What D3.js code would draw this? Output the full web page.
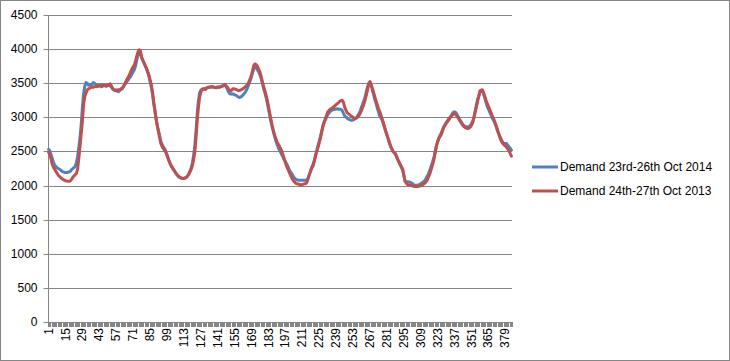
<!DOCTYPE html>
<html>
<head>
<meta charset="utf-8">
<script src="https://cdn.jsdelivr.net/npm/d3@7"></script>
<style>
  html, body { margin: 0; padding: 0; background: #fff; }
  svg { display: block; }
  text { font-family: "Liberation Sans", Arial, sans-serif; fill: #000; }
</style>
</head>
<body>
<svg id="chart" width="730" height="361"></svg>
<script>
// ---------- DATA ----------
const seriesNames = ["Demand 23rd-26th Oct 2014", "Demand 24th-27th Oct 2013"];

const demand2014 = [
  2530, 2510, 2450, 2400, 2340, 2300, 2280, 2260, 2250, 2240, 2225, 2210, 2200, 2195, 2190, 2190,
  2195, 2200, 2210, 2230, 2250, 2260, 2280, 2340, 2420, 2560, 2700, 2900, 3150, 3350, 3460, 3510,
  3500, 3470, 3480, 3470, 3490, 3510, 3500, 3480, 3470, 3455, 3465, 3470, 3450, 3460, 3475, 3465,
  3455, 3465, 3470, 3460, 3440, 3420, 3400, 3390, 3400, 3380, 3375, 3400, 3420, 3430, 3450, 3480,
  3500, 3530, 3550, 3580, 3600, 3640, 3670, 3700, 3760, 3840, 3920, 3950, 3930, 3870, 3830, 3790,
  3750, 3710, 3660, 3600, 3520, 3440, 3340, 3200, 3090, 2970, 2880, 2800, 2720, 2640, 2600, 2570,
  2540, 2500, 2450, 2400, 2350, 2310, 2280, 2250, 2220, 2190, 2165, 2140, 2125, 2115, 2108, 2105,
  2105, 2110, 2120, 2140, 2170, 2210, 2260, 2330, 2440, 2580, 2800, 3050, 3250, 3360, 3400, 3410,
  3420, 3415, 3420, 3435, 3440, 3445, 3440, 3450, 3445, 3440, 3435, 3440, 3445, 3440, 3450, 3455,
  3460, 3465, 3470, 3450, 3410, 3370, 3345, 3340, 3345, 3340, 3330, 3325, 3310, 3300, 3290, 3300,
  3310, 3330, 3350, 3375, 3410, 3450, 3500, 3540, 3600, 3670, 3720, 3730, 3720, 3690, 3660, 3620,
  3560, 3490, 3420, 3360, 3290, 3210, 3120, 3030, 2940, 2860, 2790, 2720, 2660, 2610, 2560, 2520,
  2490, 2450, 2420, 2380, 2350, 2320, 2280, 2240, 2205, 2180, 2150, 2120, 2100, 2090, 2082, 2078,
  2078, 2078, 2078, 2078, 2078, 2078, 2080, 2120, 2170, 2220, 2260, 2290, 2360, 2450, 2520, 2590,
  2650, 2720, 2800, 2880, 2930, 2960, 3000, 3040, 3060, 3085, 3100, 3110, 3115, 3120, 3120, 3125,
  3120, 3120, 3115, 3100, 3060, 3020, 3005, 2990, 2975, 2965, 2958, 2958, 2960, 2970, 2983, 3000,
  3030, 3060, 3100, 3150, 3200, 3250, 3300, 3380, 3450, 3500, 3520, 3470, 3400, 3330, 3260, 3200,
  3140, 3080, 3020, 2990, 2960, 2910, 2850, 2790, 2735, 2680, 2625, 2575, 2535, 2500, 2480, 2460,
  2420, 2380, 2340, 2300, 2265, 2230, 2150, 2070, 2055, 2054, 2054, 2050, 2040, 2030, 2015, 2005,
  2005, 2005, 2010, 2015, 2025, 2040, 2055, 2065, 2090, 2130, 2160, 2200, 2250, 2300, 2360, 2420,
  2510, 2590, 2650, 2700, 2740, 2770, 2820, 2860, 2890, 2920, 2950, 2975, 3000, 3020, 3050, 3075,
  3080, 3070, 3040, 3010, 2975, 2945, 2915, 2890, 2875, 2865, 2860, 2860, 2865, 2880, 2910, 2950,
  2990, 3080, 3180, 3260, 3310, 3360, 3390, 3400, 3340, 3280, 3220, 3160, 3120, 3080, 3040, 3000,
  2960, 2930, 2880, 2830, 2780, 2740, 2700, 2660, 2630, 2616, 2615, 2616, 2590, 2570, 2545, 2520
];

const demand2013 = [
  2490, 2450, 2390, 2310, 2270, 2240, 2210, 2180, 2150, 2135, 2115, 2100, 2090, 2080, 2070, 2065,
  2062, 2063, 2068, 2090, 2120, 2140, 2160, 2175, 2240, 2400, 2580, 2760, 2950, 3200, 3310, 3360,
  3400, 3420, 3425, 3440, 3445, 3440, 3450, 3455, 3450, 3460, 3465, 3455, 3460, 3470, 3465, 3460,
  3470, 3475, 3480, 3490, 3460, 3420, 3405, 3400, 3395, 3400, 3405, 3400, 3410, 3420, 3460, 3490,
  3530, 3560, 3590, 3630, 3670, 3710, 3740, 3770, 3830, 3900, 3960, 3990, 3975, 3880, 3840, 3800,
  3760, 3720, 3670, 3620, 3550, 3480, 3370, 3220, 3110, 2970, 2870, 2780, 2690, 2610, 2570, 2540,
  2515, 2490, 2440, 2390, 2345, 2300, 2270, 2240, 2215, 2190, 2165, 2145, 2130, 2115, 2110, 2105,
  2105, 2110, 2120, 2140, 2165, 2200, 2240, 2290, 2380, 2490, 2700, 2950, 3150, 3300, 3370, 3400,
  3415, 3420, 3410, 3430, 3435, 3440, 3445, 3450, 3445, 3440, 3438, 3435, 3440, 3440, 3445, 3450,
  3460, 3470, 3480, 3460, 3440, 3410, 3395, 3390, 3410, 3420, 3415, 3410, 3400, 3390, 3395, 3400,
  3410, 3420, 3435, 3450, 3470, 3490, 3530, 3570, 3630, 3700, 3770, 3785, 3770, 3740, 3700, 3660,
  3590, 3520, 3450, 3390, 3320, 3250, 3160, 3060, 2970, 2880, 2810, 2740, 2690, 2640, 2610, 2580,
  2540, 2500, 2450, 2390, 2335, 2280, 2240, 2200, 2160, 2120, 2090, 2060, 2045, 2030, 2025, 2020,
  2015, 2012, 2015, 2022, 2025, 2028, 2060, 2120, 2175, 2230, 2275, 2320, 2375, 2440, 2500, 2560,
  2630, 2700, 2780, 2860, 2920, 2980, 3030, 3080, 3100, 3120, 3130, 3140, 3155, 3170, 3185, 3200,
  3215, 3235, 3245, 3250, 3220, 3150, 3110, 3070, 3055, 3040, 3025, 3010, 3000, 2990, 2988, 2990,
  3010, 3030, 3060, 3100, 3150, 3200, 3260, 3330, 3410, 3490, 3520, 3480, 3420, 3360, 3300, 3240,
  3185, 3130, 3085, 3040, 2980, 2920, 2860, 2800, 2745, 2690, 2635, 2580, 2540, 2500, 2485, 2470,
  2425, 2380, 2345, 2310, 2275, 2240, 2150, 2060, 2035, 2015, 2010, 2005, 2000, 1995, 1990, 1985,
  1985, 1985, 1988, 1990, 1998, 2005, 2018, 2030, 2050, 2070, 2110, 2150, 2200, 2260, 2320, 2390,
  2490, 2580, 2640, 2690, 2720, 2750, 2800, 2850, 2880, 2910, 2935, 2960, 2985, 3010, 3030, 3050,
  3050, 3040, 3015, 2990, 2960, 2935, 2905, 2880, 2860, 2845, 2840, 2835, 2845, 2855, 2885, 2920,
  3000, 3080, 3150, 3230, 3310, 3390, 3400, 3400, 3360, 3310, 3250, 3200, 3160, 3120, 3075, 3030,
  2990, 2950, 2900, 2850, 2790, 2730, 2680, 2640, 2615, 2595, 2580, 2560, 2535, 2510, 2470, 2430
];

// categories: one per 15-minute reading
const categories = demand2014.map((d, i) => i + 1);
const xTickLabels = [1, 15, 29, 43, 57, 71, 85, 99, 113, 127, 141, 155, 169, 183, 197, 211, 225, 239, 253, 267, 281, 295, 309, 323, 337, 351, 365, 379];
const yTickValues = [0, 500, 1000, 1500, 2000, 2500, 3000, 3500, 4000, 4500];

// ---------- CHART ----------
(function () {
const svg = d3.select("#chart");
const mLeft = 48, mRight = 512, mTop = 15, mBottom = 322;
const gridColor = "#868686";

// outer border
svg.append("rect").attr("x", 0.5).attr("y", 0.5).attr("width", 729).attr("height", 360)
  .attr("fill", "#fff").attr("stroke", "#868686").attr("stroke-width", 1);

const x = d3.scaleBand().domain(categories).range([mLeft, mRight]).paddingInner(0).paddingOuter(0);
const y = d3.scaleLinear().domain([0, 4500]).range([mBottom, mTop]);

// gridlines
svg.append("g").selectAll("line").data(yTickValues.filter(v => v > 0)).join("line")
  .attr("x1", mLeft).attr("x2", mRight)
  .attr("y1", d => Math.round(y(d)) + 0.5).attr("y2", d => Math.round(y(d)) + 0.5)
  .attr("stroke", gridColor).attr("stroke-width", 1);

// y axis
const yAxis = d3.axisLeft(y).tickValues(yTickValues).tickSize(5).tickPadding(6).tickFormat(d3.format("d"));
const gy = svg.append("g").attr("transform", `translate(${mLeft + 0.5},0)`).call(yAxis);
gy.select(".domain").attr("stroke", gridColor).attr("d", `M0,${mTop}V${mBottom}`);
gy.selectAll(".tick line").attr("stroke", gridColor);
gy.selectAll(".tick text").attr("font-size", 12).attr("font-family", "Liberation Sans, Arial, sans-serif").attr("fill", "#000");
gy.selectAll(".tick").attr("transform", d => `translate(0,${Math.round(y(d)) + 0.5})`);

// x axis line
svg.append("line").attr("x1", mLeft).attr("x2", mRight + 1)
  .attr("y1", mBottom + 0.5).attr("y2", mBottom + 0.5).attr("stroke", gridColor);

// x tick marks at every category boundary
const boundaries = categories.map(c => x(c)).concat([mRight]);
svg.append("g").attr("shape-rendering", "crispEdges").selectAll("line").data(boundaries).join("line")
  .attr("x1", d => Math.round(d) + 0.5).attr("x2", d => Math.round(d) + 0.5)
  .attr("y1", mBottom).attr("y2", mBottom + 5)
  .attr("stroke", gridColor).attr("stroke-width", 1);

// x tick labels (rotated)
svg.append("g").selectAll("text").data(xTickLabels).join("text")
  .attr("transform", d => `translate(${x(d) + x.bandwidth() / 2 + 4},${mBottom + 6}) rotate(-90)`)
  .attr("text-anchor", "end")
  .attr("font-size", 12)
  .text(d => d);

// lines
const line = d3.line()
  .x((d, i) => x(categories[i]) + x.bandwidth() / 2)
  .y(d => y(d));

const colors = ["#4F81BD", "#C0504D"];
[demand2014, demand2013].forEach((s, k) => {
  svg.append("path").datum(s)
    .attr("d", line)
    .attr("fill", "none")
    .attr("stroke", colors[k])
    .attr("stroke-width", 3)
    .attr("stroke-linejoin", "round")
    .attr("stroke-linecap", "round");
});

// legend
const legendY = [167, 191];
seriesNames.forEach((name, k) => {
  svg.append("line").attr("x1", 532).attr("x2", 558)
    .attr("y1", legendY[k]).attr("y2", legendY[k])
    .attr("stroke", colors[k]).attr("stroke-width", 3);
  svg.append("text").attr("x", 560).attr("y", legendY[k] + 4)
    .attr("font-size", 12).text(name);
});
})();
</script>
</body>
</html>
